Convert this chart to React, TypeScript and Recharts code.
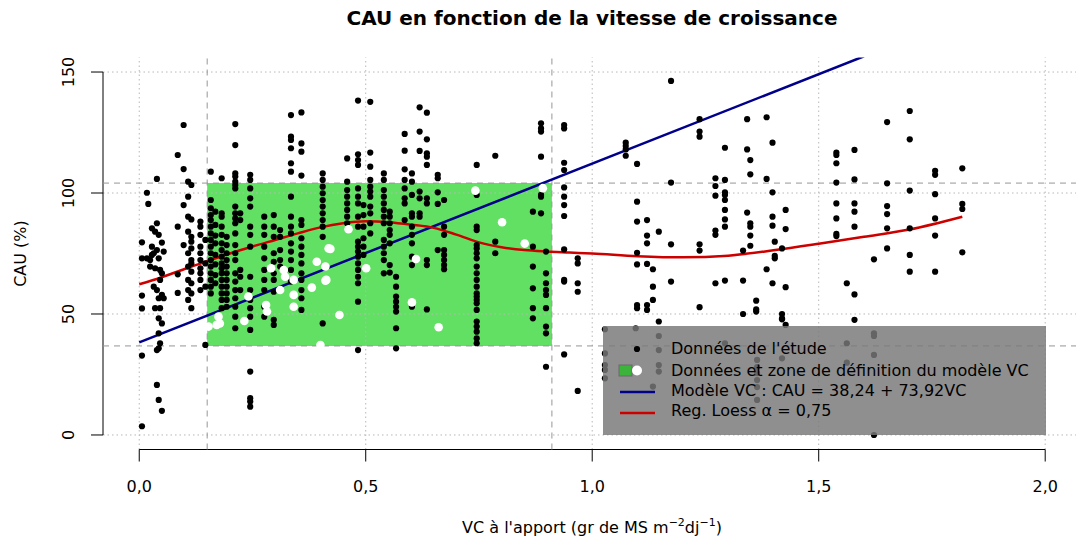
import React from "react";
import {
  ComposedChart,
  Scatter,
  Line,
  XAxis,
  YAxis,
  ReferenceArea,
  ReferenceLine,
  Legend,
} from "recharts";

const FONT = '"DejaVu Sans", "Liberation Sans", Arial, sans-serif';

// "Données de l'étude" : colonnes [VC, valeurs de CAU]
const etudeCols: [number, number[]][] = [
  [0.006, [79.6, 73.0, 57.6, 52.3, 32.8, 3.6]],
  [0.017, [100.1, 73.0]],
  [0.02, [95.5]],
  [0.024, [72.3, 69.6]],
  [0.028, [85.4, 77.8, 74.4]],
  [0.032, [75.1, 61.3]],
  [0.035, [84.0, 68.9, 52.4]],
  [0.039, [105.8, 87.5, 76.4, 59.9, 35.1, 20.7]],
  [0.043, [82.7, 73.0, 56.5, 48.2, 42.0, 35.8, 14.5]],
  [0.046, [68.2, 64.1, 52.4, 37.9]],
  [0.05, [79.5, 66.8, 57.9, 46.1, 10.0]],
  [0.054, [75.8, 56.5]],
  [0.085, [115.7, 86.1, 66.4, 58.7]],
  [0.098, [128.1, 109.9, 95.0, 78.5]],
  [0.108, [104.7, 98.5, 90.2, 84.0, 75.1, 69.6, 64.1, 59.9, 55.8]],
  [0.115, [103.3, 89.1, 81.9, 79.9, 77.1, 72.3, 70.9, 67.5, 62.7, 58.5, 52.4]],
  [0.135, [88.2, 86.1, 82.7, 77.8, 75.1, 72.3, 68.9, 66.8, 64.1, 59.9]],
  [0.146, [80.6, 70.9, 61.3, 37.2]],
  [0.158, [108.8, 97.1, 93.7, 90.9, 88.8, 86.1, 83.3, 80.6, 77.8, 75.1, 72.3, 69.6, 66.8, 64.1, 61.3, 58.5]],
  [0.168, [92.3, 86.8, 82.4, 79.2, 74.4, 70.5, 66.1, 62.7]],
  [0.182, [106.1, 91.6, 90.2, 86.1, 82.7, 79.2, 76.4, 73.7, 70.9, 68.9, 66.8, 64.1, 61.3, 58.5, 55.8, 52.4]],
  [0.193, [81.9, 78.5, 75.1, 72.3, 69.6, 66.8, 64.1, 61.3, 58.5, 55.8, 53.0]],
  [0.212, [128.5, 119.8, 108.1, 106.8, 104.7, 103.3, 101.9, 94.4, 91.6, 89.5, 87.5, 83.3, 78.5, 75.1, 72.3, 66.8, 63.4, 59.9, 56.5, 53.0, 48.9, 44.1]],
  [0.223, [91.6, 88.8, 68.2, 65.4, 59.9]],
  [0.245, [107.5, 105.4, 101.9, 97.8, 94.4, 86.1, 82.7, 77.8, 65.4, 59.9, 55.8, 52.4, 48.9, 43.4, 26.2, 15.2, 13.8, 11.7]],
  [0.276, [90.2, 86.1, 82.7, 77.8, 73.0, 68.2, 64.1, 59.9, 53.0, 48.9]],
  [0.297, [90.9, 86.1, 81.9, 75.1, 71.6, 66.8, 64.1, 59.2, 47.6, 45.5]],
  [0.311, [84.7, 81.9, 76.4, 72.3, 69.6]],
  [0.335, [132.2, 123.3, 121.9, 118.5, 112.3, 108.8, 98.5, 90.2, 86.1, 83.3, 79.2, 75.8, 72.3, 68.2, 63.4]],
  [0.358, [133.3, 120.5, 117.1, 107.2, 88.8, 86.8, 81.3, 77.8, 74.4, 70.9, 66.8, 64.1, 59.9, 56.5, 51.7]],
  [0.405, [108.1, 105.4, 102.6, 99.9, 97.1, 94.4, 91.6, 88.8, 86.1, 81.9, 46.1]],
  [0.459, [114.3, 104.7, 101.2, 98.5, 95.7, 93.0, 90.2, 87.5]],
  [0.483, [138.2, 116.0, 113.6, 111.6, 101.9, 98.5, 95.7, 90.2, 86.1, 79.9, 77.8, 75.8, 73.7, 70.9, 68.2, 65.4, 62.7, 55.1, 35.1]],
  [0.495, [95.0, 90.9, 86.1, 81.3, 77.8, 74.4]],
  [0.51, [137.7, 116.7, 110.9, 105.4, 102.6, 100.6, 98.5, 94.4, 91.6, 87.5, 83.3]],
  [0.54, [108.1, 105.4, 101.2, 98.5, 95.7, 93.0, 90.2, 87.5, 80.6, 77.8, 75.1, 72.3, 66.8]],
  [0.553, [92.3, 90.2, 87.5, 84.7, 82.7, 79.2, 70.2, 67.1]],
  [0.567, [65.4, 61.3, 57.2, 55.1, 53.0, 51.0, 44.1, 35.8]],
  [0.586, [124.4, 117.5, 109.8, 105.4, 101.9, 97.8, 95.7, 88.8]],
  [0.602, [108.1, 104.7, 99.2, 91.6, 90.2, 86.1, 82.7, 79.2, 73.7, 70.2, 55.1, 53.0]],
  [0.619, [135.4, 125.4, 117.4, 100.6, 97.8, 91.6, 90.2]],
  [0.635, [133.2, 122.2, 116.4, 115.0, 111.6, 97.8, 95.7, 72.3, 70.2, 51.9]],
  [0.659, [107.5, 106.1, 100.3, 95.5, 76.4]],
  [0.673, [97.1, 86.1, 82.7, 76.4, 74.4, 72.3, 70.2, 68.5]],
  [0.745, [111.6, 99.2, 86.1, 84.7, 78.5, 77.1, 75.1, 73.0, 69.6, 66.8, 64.1, 61.3, 58.5, 57.2, 55.8, 54.4, 51.7, 46.9, 44.8, 42.7, 39.9, 37.9]],
  [0.786, [115.4, 79.9, 75.1]],
  [0.869, [92.3, 77.8, 69.6, 60.6, 52.4, 48.2]],
  [0.887, [128.8, 126.7, 125.4, 115.0, 99.2, 98.5, 91.6]],
  [0.898, [75.8, 66.8, 62.7, 59.9, 57.9, 52.4, 44.8, 42.0, 28.2]],
  [0.938, [128.1, 126.7, 112.5, 109.5, 102.3, 98.5, 95.0, 90.5, 76.7, 64.1, 63.4, 33.3]],
  [0.968, [73.0, 70.9, 62.7, 59.2, 18.2]],
  [1.028, [43.7, 33.7, 28.9, 26.9, 23.4]],
  [1.074, [120.8, 119.4, 118.0, 115.4]],
  [1.096, [44.1]],
  [1.099, [112.0, 96.4, 88.2, 75.3, 70.5, 53.7, 52.4]],
  [1.121, [88.8, 82.4, 79.2, 70.7, 53.7, 51.7]],
  [1.134, [68.5, 61.3, 55.8, 20.0]],
  [1.147, [84.0, 46.9, 40.9, 35.1, 28.9, 26.2]],
  [1.174, [146.3, 104.3, 78.8, 63.4]],
  [1.237, [130.5, 125.4, 123.3, 78.8, 76.2, 52.8]],
  [1.272, [106.1, 102.9, 98.9, 84.5, 82.7, 62.7]],
  [1.293, [118.7, 105.4, 100.3, 99.2, 97.1, 93.0, 89.1, 86.1, 63.8, 37.9]],
  [1.333, [76.2, 63.8, 50.0]],
  [1.342, [130.5, 118.0, 91.9]],
  [1.349, [113.6, 107.7, 87.5, 86.1, 82.4, 78.2]],
  [1.362, [55.5, 51.9, 51.0]],
  [1.364, [31.0, 28.1, 25.6, 22.7, 19.8, 14.5]],
  [1.385, [131.3, 105.8, 68.5]],
  [1.398, [120.8, 100.3, 90.2, 86.5, 62.7]],
  [1.403, [79.9, 74.0, 73.0]],
  [1.419, [77.1, 50.0, 48.2, 47.8, 31.7]],
  [1.427, [93.0, 85.1, 61.1, 45.5]],
  [1.539, [116.7, 115.7, 112.3, 104.3, 95.7, 89.5, 83.1, 82.2]],
  [1.562, [62.7, 37.9, 29.9]],
  [1.579, [117.8, 105.6, 95.7, 92.3, 86.1, 58.1, 47.6]],
  [1.622, [72.6, 42.0, 40.9, 33.1, 0]],
  [1.651, [129.3, 104.0, 94.6, 91.3, 85.4, 77.1]],
  [1.701, [133.9, 122.2, 101.0, 85.4, 74.4, 67.5]],
  [1.757, [109.2, 107.5, 99.5, 89.5, 82.4, 67.5]],
  [1.817, [110.2, 95.5, 93.4, 75.5]],
];

// "Données ... du modèle VC" (points blancs)
const modeleX = [0.153, 0.171, 0.178, 0.175, 0.232, 0.241, 0.28, 0.282, 0.291, 0.311, 0.319, 0.322, 0.341, 0.341, 0.341, 0.381, 0.392, 0.418, 0.413, 0.4, 0.462, 0.422, 0.411, 0.411, 0.442, 0.501, 0.602, 0.611, 0.661, 0.742, 0.801, 0.851, 0.891];
const modeleY = [44.8, 45.5, 46.1, 48.9, 47.1, 57.2, 53.7, 51.0, 68.9, 59.9, 68.2, 65.4, 64.1, 57.9, 53.0, 60.9, 71.6, 77.1, 64.1, 37.2, 85.0, 76.9, 69.6, 63.8, 49.6, 68.9, 54.8, 72.7, 44.5, 101.0, 87.9, 79.1, 102.0];

// Reg. Loess
const loessX = [0, 0.05, 0.1, 0.15, 0.2, 0.25, 0.3, 0.35, 0.4, 0.45, 0.5, 0.55, 0.6, 0.65, 0.7, 0.75, 0.8, 0.85, 0.9, 0.95, 1.0, 1.1, 1.2, 1.3, 1.4, 1.5, 1.6, 1.7, 1.817];
const loessY = [62.3, 65.2, 68.6, 71.8, 75.0, 77.9, 80.6, 83.3, 85.8, 87.5, 88.3, 87.9, 86.9, 85.6, 82.8, 79.6, 77.6, 76.4, 75.8, 75.4, 75.0, 73.9, 73.4, 74.1, 76.3, 79.0, 81.9, 84.9, 90.2];

// Modèle VC : CAU = 38,24 + 73,92 VC (extrémités)
const modeleLigneX = [0, 1.6];
const modeleLigneY = [38.24, 156.51];

// zone de définition du modèle
const zoneX = [0.15, 0.911];
const zoneY = [36.8, 104.1];

const xTicks = [0, 0.5, 1, 1.5, 2];
const yTicks = [0, 50, 100, 150];

const etude = etudeCols.flatMap(([x, ys]) => ys.map((y) => ({ x, y })));
const modele = modeleX.map((x, i) => ({ x, y: modeleY[i] }));
const loess = loessX.map((x, i) => ({ x, y: loessY[i] }));
const modeleLigne = modeleLigneX.map((x, i) => ({ x, y: modeleLigneY[i] }));

const fmt = (v: number) => v.toFixed(1).replace(".", ",");

const BlackDot = (p: any) => <circle cx={p.cx} cy={p.cy} r={3.1} fill="#000" />;
const WhiteDot = (p: any) => <circle cx={p.cx} cy={p.cy} r={4.3} fill="#fff" />;

const XTick = (p: any) => (
  <text x={p.x} y={p.y + 28} textAnchor="middle" fontFamily={FONT} fontSize={16} fill="#000">
    {fmt(p.payload.value)}
  </text>
);

const YTick = (p: any) => {
  const x = p.x - 15;
  return (
    <text x={x} y={p.y} transform={`rotate(-90 ${x} ${p.y})`} textAnchor="middle" fontFamily={FONT} fontSize={16} fill="#000">
      {p.payload.value}
    </text>
  );
};

const XTitle = (p: any) => {
  const vb = p.viewBox;
  return (
    <text x={vb.x + 489} y={533} textAnchor="middle" fontFamily={FONT} fontSize={16} fill="#000">
      VC à l'apport (gr de MS m
      <tspan dy={-7} fontSize={11}>−2</tspan>
      <tspan dy={7}>dj</tspan>
      <tspan dy={-7} fontSize={11}>−1</tspan>
      <tspan dy={7}>)</tspan>
    </text>
  );
};

const YTitle = (p: any) => {
  const vb = p.viewBox;
  const cy = vb.y + vb.height / 2;
  return (
    <text x={26} y={cy} transform={`rotate(-90 26 ${cy})`} textAnchor="middle" fontFamily={FONT} fontSize={16} fill="#000">
      CAU (%)
    </text>
  );
};

const rowText = (top: number, txt: React.ReactNode) => (
  <div style={{ position: "absolute", left: 68, top: top - 10, lineHeight: "20px", whiteSpace: "nowrap" }}>{txt}</div>
);

const LegendBox = () => (
  <div style={{ position: "relative", width: 443, height: 109, background: "rgba(120,120,120,0.83)", fontFamily: FONT, fontSize: 16, color: "#000" }}>
    <svg width={443} height={109} style={{ position: "absolute", left: 0, top: 0 }}>
      <circle cx={34} cy={23} r={3.1} fill="#000" />
      <rect x={16} y={39} width={13} height={11} fill="#3cb43c" stroke="#6a6a6a" />
      <circle cx={34} cy={44.5} r={5} fill="#fff" />
      <line x1={17} x2={52} y1={66} y2={66} stroke="#00008B" strokeWidth={2.5} />
      <line x1={17} x2={52} y1={87} y2={87} stroke="#CD0000" strokeWidth={2.5} />
    </svg>
    {rowText(23, "Données de l'étude")}
    {rowText(45, "Données et zone de définition du modèle VC")}
    {rowText(65, "Modèle VC : CAU = 38,24 + 73,92VC")}
    {rowText(85, "Reg. Loess α = 0,75")}
  </div>
);

const GRID = { stroke: "#b8b8b8", strokeDasharray: "1.5 3" };
const DASH = { stroke: "#969696", strokeDasharray: "6 5" };

export default function App() {
  return (
    <div style={{ position: "fixed", left: 0, top: 0, width: 1076, height: 545, background: "#fff" }}>
      <div
        style={{
          position: "absolute",
          left: 592,
          top: 5,
          transform: "translateX(-50%)",
          whiteSpace: "nowrap",
          fontFamily: FONT,
          fontWeight: "bold",
          fontSize: 20,
          lineHeight: "26px",
          color: "#000",
        }}
      >
        CAU en fonction de la vitesse de croissance
      </div>
      <ComposedChart width={1076} height={545} margin={{ top: 57.5, right: 0, bottom: 35.5, left: 0 }}>
        <XAxis
          type="number"
          dataKey="x"
          domain={[-0.08, 2.068]}
          ticks={xTicks}
          allowDataOverflow
          axisLine={false}
          tickLine={{ stroke: "#000" }}
          tickSize={12}
          height={60}
          tick={<XTick />}
          label={<XTitle />}
        />
        <YAxis
          type="number"
          dataKey="y"
          domain={[-6, 156]}
          ticks={yTicks}
          allowDataOverflow
          axisLine={false}
          tickLine={{ stroke: "#000" }}
          tickSize={12}
          width={103}
          tick={<YTick />}
          label={<YTitle />}
        />
        {xTicks.map((t) => (
          <ReferenceLine key={`gx${t}`} x={t} {...GRID} />
        ))}
        {yTicks.map((t) => (
          <ReferenceLine key={`gy${t}`} y={t} {...GRID} />
        ))}
        <ReferenceLine segment={[{ x: 0, y: -6 }, { x: 2, y: -6 }]} stroke="#000" ifOverflow="visible" />
        <ReferenceLine segment={[{ x: -0.08, y: 0 }, { x: -0.08, y: 150 }]} stroke="#000" ifOverflow="visible" />
        <ReferenceLine x={zoneX[0]} {...DASH} />
        <ReferenceLine x={zoneX[1]} {...DASH} />
        <ReferenceLine y={zoneY[0]} {...DASH} />
        <ReferenceLine y={zoneY[1]} {...DASH} />
        <ReferenceArea x1={zoneX[0]} x2={zoneX[1]} y1={zoneY[0]} y2={zoneY[1]} fill="#62e064" fillOpacity={1} stroke="none" />
        <Scatter data={etude} shape={<BlackDot />} isAnimationActive={false} />
        <Scatter data={modele} shape={<WhiteDot />} isAnimationActive={false} />
        <Line data={modeleLigne} dataKey="y" type="linear" stroke="#00008B" strokeWidth={2.5} dot={false} activeDot={false} isAnimationActive={false} />
        <Line data={loess} dataKey="y" type="monotone" stroke="#CD0000" strokeWidth={2.5} dot={false} activeDot={false} isAnimationActive={false} />
        <Legend
          layout="vertical"
          align="center"
          verticalAlign="middle"
          content={<LegendBox />}
          wrapperStyle={{ left: 603, top: 326, width: 443, height: 109 }}
        />
      </ComposedChart>
    </div>
  );
}
